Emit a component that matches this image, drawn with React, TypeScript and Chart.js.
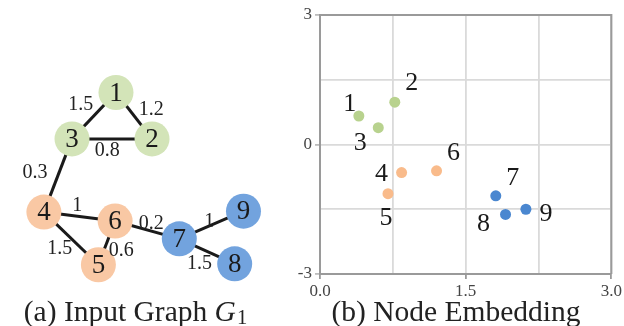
import React, { useEffect, useRef } from "react";
import { Chart, registerables } from "chart.js";
Chart.register(...registerables);

// ---- Input graph (left panel) ----
const nodeIds = ["1", "2", "3", "4", "5", "6", "7", "8", "9"];
const nodeGroups = [0, 0, 0, 1, 1, 1, 2, 2, 2];
// layout coordinates of the drawn graph
const nodeLayoutX = [112, 153, 62, 30, 92, 111, 184, 247, 257];
const nodeLayoutY = [84, 136, 136, 218, 277, 228, 248, 276, 217];
const edgeFrom = [1, 1, 3, 3, 4, 4, 6, 6, 7, 7];
const edgeTo = [3, 2, 2, 4, 6, 5, 5, 7, 9, 8];
const edgeWeights = ["1.5", "1.2", "0.8", "0.3", "1", "1.5", "0.6", "0.2", "1", "1.5"];
const edgeLabelX = [72, 152, 102, 20, 68, 48, 118, 152, 218, 207];
const edgeLabelY = [97, 102, 148, 173, 210, 258, 260, 230, 228, 275];

// ---- Node embedding (right panel) ----
const embedX = [0.4, 0.77, 0.6, 0.84, 0.7, 1.2, 1.81, 1.91, 2.12];
const embedY = [0.66, 0.98, 0.39, -0.65, -1.14, -0.61, -1.19, -1.62, -1.5];
const xGridValues = [0, 0.75, 1.5, 2.25, 3];
const xTickLabels = ["0.0", "", "1.5", "", "3.0"];
const yGridValues = [-3, -1.5, 0, 1.5, 3];
const yTickLabels = ["-3", "", "0", "", "3"];

const nodeColors = ["#d3e4b8", "#f9c8a4", "#72a3de"];
const pointColors = ["#b8d28e", "#f9bb8b", "#4a87d0"];
const SERIF = "'Liberation Serif', 'Times New Roman', serif";

// label offsets (px) for embedding annotations
const labelDX = [-9, 17, -18, -20, -2, 17, 17, -22, 20];
const labelDY = [-12, -19, 16, 2, 24, -18, -18, 10, 5];

function drawCaption(ctx: CanvasRenderingContext2D, prefix: string, italic: string, sub: string, cx: number, cy: number) {
  const size = 29.5;
  ctx.save();
  ctx.fillStyle = "#222";
  ctx.textBaseline = "middle";
  ctx.textAlign = "left";
  ctx.font = `${size}px ${SERIF}`;
  const w1 = ctx.measureText(prefix).width;
  ctx.font = `italic ${size}px ${SERIF}`;
  const w2 = italic ? ctx.measureText(italic).width : 0;
  ctx.font = `${size * 0.7}px ${SERIF}`;
  const w3 = sub ? ctx.measureText(sub).width : 0;
  let x = cx - (w1 + w2 + w3) / 2;
  ctx.font = `${size}px ${SERIF}`;
  ctx.fillText(prefix, x, cy);
  x += w1;
  if (italic) {
    ctx.font = `italic ${size}px ${SERIF}`;
    ctx.fillText(italic, x, cy);
    x += w2;
  }
  if (sub) {
    ctx.font = `${size * 0.7}px ${SERIF}`;
    ctx.fillText(sub, x + 1, cy + 6);
  }
  ctx.restore();
}

export default function App() {
  const leftRef = useRef<HTMLCanvasElement>(null);
  const rightRef = useRef<HTMLCanvasElement>(null);

  useEffect(() => {
    const edgeSets = edgeFrom.map((f, i) => ({
      type: "scatter" as const,
      data: [
        { x: nodeLayoutX[f - 1], y: nodeLayoutY[f - 1] },
        { x: nodeLayoutX[edgeTo[i] - 1], y: nodeLayoutY[edgeTo[i] - 1] },
      ],
      showLine: true,
      borderColor: "#1a1a1a",
      borderWidth: 3,
      pointRadius: 0,
      order: 1,
      clip: false as any,
    }));
    const nodeSet = {
      type: "scatter" as const,
      data: nodeIds.map((_, i) => ({ x: nodeLayoutX[i], y: nodeLayoutY[i] })),
      pointRadius: 17.5,
      pointBackgroundColor: nodeGroups.map((g) => nodeColors[g]),
      pointBorderWidth: 0,
      showLine: false,
      order: 0,
      clip: false as any,
    };

    const graphLabels = {
      id: "graphLabels",
      afterDatasetsDraw(chart: any) {
        const ctx = chart.ctx as CanvasRenderingContext2D;
        const xs = chart.scales.x;
        const ys = chart.scales.y;
        const meta = chart.getDatasetMeta(edgeSets.length);
        ctx.save();
        ctx.fillStyle = "#1a1a1a";
        ctx.textAlign = "center";
        ctx.textBaseline = "middle";
        ctx.font = `27px ${SERIF}`;
        meta.data.forEach((pt: any, i: number) => {
          ctx.fillText(nodeIds[i], pt.x, pt.y + 1);
        });
        ctx.font = `20px ${SERIF}`;
        ctx.fillStyle = "#222";
        edgeWeights.forEach((w, i) => {
          ctx.fillText(w, xs.getPixelForValue(edgeLabelX[i]), ys.getPixelForValue(edgeLabelY[i]) + 1);
        });
        ctx.restore();
        drawCaption(ctx, "(a) Input Graph ", "G", "1", 135, 313);
      },
    };

    const left = new Chart(leftRef.current!, {
      type: "scatter",
      data: { datasets: [...edgeSets, nodeSet] as any },
      options: {
        animation: false,
        responsive: false,
        devicePixelRatio: 1,
        layout: { padding: 0 },
        plugins: { legend: { display: false }, tooltip: { enabled: false } },
        scales: {
          x: { type: "linear", min: 0, max: 290, display: false },
          y: { type: "linear", min: 0, max: 326, reverse: true, display: false },
        },
      },
      plugins: [graphLabels],
    });

    const embedLabels = {
      id: "embedLabels",
      afterDatasetsDraw(chart: any) {
        const ctx = chart.ctx as CanvasRenderingContext2D;
        const meta = chart.getDatasetMeta(0);
        ctx.save();
        ctx.fillStyle = "#1a1a1a";
        ctx.textAlign = "center";
        ctx.textBaseline = "middle";
        ctx.font = `26px ${SERIF}`;
        meta.data.forEach((pt: any, i: number) => {
          ctx.fillText(nodeIds[i], pt.x + labelDX[i], pt.y + labelDY[i]);
        });
        ctx.restore();
      },
      afterDraw(chart: any) {
        const ctx = chart.ctx as CanvasRenderingContext2D;
        const a = chart.chartArea;
        ctx.save();
        ctx.strokeStyle = "#9a9a9a";
        ctx.lineWidth = 2;
        ctx.beginPath();
        ctx.moveTo(a.left, a.top);
        ctx.lineTo(a.right, a.top);
        ctx.lineTo(a.right, a.bottom);
        ctx.stroke();
        ctx.restore();
        drawCaption(ctx, "(b) Node Embedding", "", "", 456 - 290, 313);
      },
    };

    const right = new Chart(rightRef.current!, {
      type: "scatter",
      data: {
        datasets: [
          {
            data: embedX.map((x, i) => ({ x, y: embedY[i] })),
            pointRadius: 5.5,
            pointBackgroundColor: nodeGroups.map((g) => pointColors[g]),
            pointBorderWidth: 0,
          },
        ],
      },
      options: {
        animation: false,
        responsive: false,
        devicePixelRatio: 1,
        layout: { padding: { top: 15, right: 12, bottom: 24, left: 0 } },
        plugins: { legend: { display: false }, tooltip: { enabled: false } },
        scales: {
          x: {
            type: "linear",
            min: 0,
            max: 3,
            afterBuildTicks: (s: any) => {
              s.ticks = xGridValues.map((v) => ({ value: v }));
            },
            afterFit: (s: any) => {
              s.height = 28;
            },
            ticks: {
              callback: (_v: any, i: number) => xTickLabels[i],
              font: { family: SERIF, size: 17 },
              color: "#444",
              padding: 2,
              maxRotation: 0,
              autoSkip: false,
            },
            grid: {
              color: "#dadada",
              lineWidth: 1.8,
              tickLength: 5,
              tickColor: (c: any) => (xTickLabels[c.index] ? "#9a9a9a" : "rgba(0,0,0,0)"),
            },
            border: { display: true, color: "#9a9a9a", width: 2 },
          },
          y: {
            type: "linear",
            min: -3,
            max: 3,
            afterBuildTicks: (s: any) => {
              s.ticks = yGridValues.map((v) => ({ value: v }));
            },
            afterFit: (s: any) => {
              s.width = 30;
            },
            ticks: {
              callback: (_v: any, i: number) => yTickLabels[i],
              font: { family: SERIF, size: 17 },
              color: "#444",
              padding: 3,
              autoSkip: false,
            },
            grid: {
              color: "#dadada",
              lineWidth: 1.8,
              tickLength: 5,
              tickColor: (c: any) => (yTickLabels[c.index] ? "#bdbdbd" : "rgba(0,0,0,0)"),
            },
            border: { display: true, color: "#9a9a9a", width: 2 },
          },
        },
      },
      plugins: [embedLabels],
    });

    return () => {
      left.destroy();
      right.destroy();
    };
  }, []);

  return (
    <div style={{ position: "fixed", left: 0, top: 0, width: 624, height: 326, background: "#fff" }}>
      <canvas ref={leftRef} width={290} height={326} style={{ position: "absolute", left: 0, top: 0, display: "block" }} />
      <canvas ref={rightRef} width={334} height={326} style={{ position: "absolute", left: 290, top: 0, display: "block" }} />
    </div>
  );
}
